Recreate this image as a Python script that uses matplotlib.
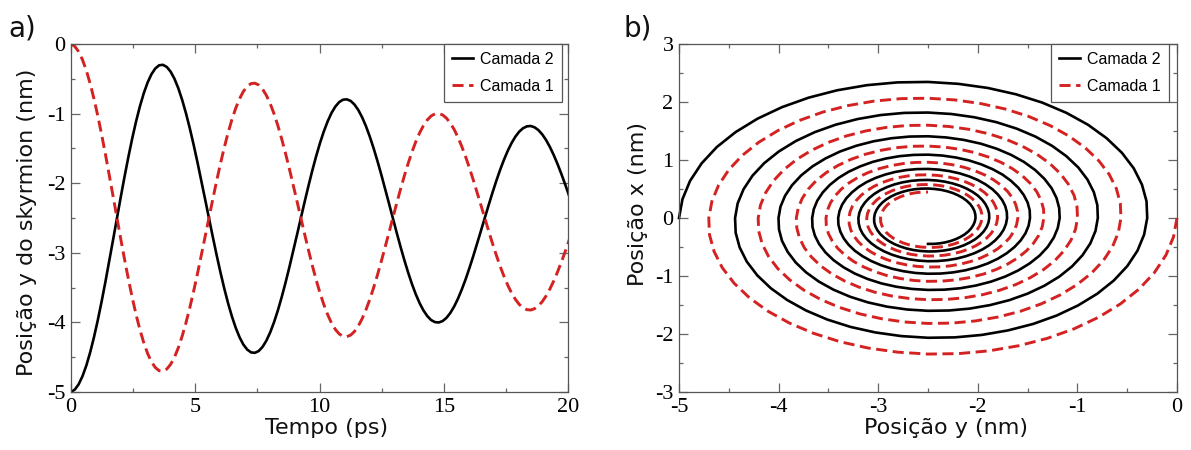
import numpy as np
import matplotlib
matplotlib.use("Agg")
import matplotlib.pyplot as plt
from matplotlib.ticker import MultipleLocator

# Sampling interval of the simulation output (ps)
t_step = 7.4 / 48

# Camada 2: skyrmion y position (nm)
y_c2 = [
    -5.000, -4.965, -4.889, -4.773, -4.620, -4.431, -4.212, -3.966, -3.698, -3.412, -3.114, -2.808,
    -2.500, -2.195, -1.899, -1.617, -1.352, -1.109, -0.893, -0.707, -0.553, -0.434, -0.352, -0.306,
    -0.299, -0.330, -0.397, -0.499, -0.634, -0.800, -0.993, -1.209, -1.445, -1.697, -1.960, -2.229,
    -2.500, -2.768, -3.029, -3.278, -3.511, -3.724, -3.914, -4.078, -4.214, -4.319, -4.391, -4.431,
    -4.437, -4.411, -4.352, -4.262, -4.143, -3.997, -3.827, -3.636, -3.428, -3.207, -2.975, -2.739,
    -2.500, -2.264, -2.035, -1.815, -1.610, -1.422, -1.255, -1.111, -0.991, -0.899, -0.835, -0.800,
    -0.795, -0.818, -0.870, -0.949, -1.054, -1.182, -1.332, -1.500, -1.683, -1.878, -2.081, -2.290,
    -2.500, -2.708, -2.910, -3.103, -3.283, -3.449, -3.596, -3.723, -3.828, -3.909, -3.966, -3.996,
    -4.001, -3.981, -3.935, -3.865, -3.773, -3.660, -3.528, -3.381, -3.219, -3.048, -2.868, -2.685,
    -2.500, -2.317, -2.139, -1.969, -1.810, -1.665, -1.535, -1.423, -1.331, -1.259, -1.210, -1.183,
    -1.178, -1.197, -1.237, -1.298, -1.379, -1.479, -1.595, -1.725, -1.867, -2.018, -2.176, -2.337,
    -2.500, -2.661, -2.818, -2.967, -3.107, -3.235, -3.349, -3.448, -3.529, -3.592, -3.636, -3.660,
    -3.663, -3.647, -3.612, -3.558, -3.486, -3.399, -3.297, -3.182, -3.058, -2.924, -2.786, -2.643,
    -2.500, -2.358, -2.220, -2.089, -1.966, -1.853, -1.752, -1.666, -1.594, -1.539, -1.500, -1.479,
    -1.476, -1.490, -1.521, -1.569, -1.632, -1.709, -1.799, -1.899, -2.009, -2.126, -2.249, -2.374,
    -2.500, -2.625, -2.746, -2.862, -2.970, -3.070, -3.158, -3.235, -3.298, -3.346, -3.380, -3.399,
    -3.402, -3.389, -3.362, -3.320, -3.264, -3.197, -3.118, -3.029, -2.932, -2.829, -2.721, -2.611,
    -2.500, -2.390, -2.283, -2.181, -2.086, -1.999, -1.921, -1.853, -1.798, -1.755, -1.725, -1.709,
    -1.706, -1.717, -1.741, -1.778, -1.827, -1.887, -1.956, -2.034, -2.120, -2.210, -2.305, -2.402,
    -2.500, -2.597, -2.691, -2.780, -2.865, -2.941, -3.010, -3.069, -3.118, -3.156, -3.182, -3.196,
    -3.199, -3.189, -3.168, -3.135, -3.092, -3.040, -2.979, -2.910, -2.835, -2.755, -2.671, -2.586,
    -2.500, -2.415, -2.332, -2.253, -2.179, -2.111, -2.051, -1.999, -1.956, -1.923, -1.900, -1.887,
    -1.885, -1.893, -1.912, -1.941, -1.979, -2.025, -2.079, -2.139, -2.205, -2.276, -2.349, -2.424,
    -2.500, -2.575, -2.648, -2.717, -2.782, -2.842, -2.895, -2.941, -2.979, -3.008, -3.029, -3.040,
    -3.041, -3.034, -3.017, -2.992, -2.959, -2.918, -2.871, -2.818, -2.759, -2.698, -2.633, -2.567,
    -2.500, -2.434, -2.370, -2.309, -2.251, -2.199, -2.152, -2.112, -2.078, -2.053, -2.035, -2.025,
    -2.023, -2.030, -2.045, -2.067, -2.096, -2.132, -2.174, -2.220, -2.272, -2.326, -2.383, -2.441,
    -2.500,
]

# Camada 2: skyrmion x position (nm)
x_c2 = [
    0.000, 0.325, 0.640, 0.942, 1.224, 1.482, 1.712, 1.911, 2.075, 2.202, 2.290, 2.338,
    2.346, 2.313, 2.242, 2.133, 1.989, 1.812, 1.607, 1.376, 1.124, 0.856, 0.576, 0.289,
    0.000, -0.286, -0.564, -0.829, -1.077, -1.305, -1.507, -1.682, -1.827, -1.938, -2.016, -2.058,
    -2.065, -2.036, -1.973, -1.878, -1.751, -1.595, -1.414, -1.211, -0.989, -0.753, -0.507, -0.254,
    0.000, 0.252, 0.496, 0.730, 0.948, 1.148, 1.327, 1.481, 1.608, 1.706, 1.775, 1.812,
    1.818, 1.793, 1.737, 1.653, 1.541, 1.404, 1.245, 1.066, 0.871, 0.663, 0.446, 0.224,
    0.000, -0.221, -0.437, -0.642, -0.835, -1.011, -1.168, -1.304, -1.416, -1.502, -1.562, -1.595,
    -1.600, -1.578, -1.529, -1.455, -1.357, -1.236, -1.096, -0.939, -0.767, -0.584, -0.393, -0.197,
    0.000, 0.195, 0.384, 0.565, 0.735, 0.890, 1.028, 1.148, 1.246, 1.322, 1.375, 1.404,
    1.409, 1.389, 1.346, 1.281, 1.194, 1.088, 0.965, 0.826, 0.675, 0.514, 0.346, 0.173,
    0.000, -0.172, -0.338, -0.498, -0.647, -0.783, -0.905, -1.010, -1.097, -1.164, -1.211, -1.236,
    -1.240, -1.223, -1.185, -1.128, -1.051, -0.958, -0.849, -0.727, -0.594, -0.452, -0.304, -0.153,
    0.000, 0.151, 0.298, 0.438, 0.570, 0.690, 0.797, 0.889, 0.966, 1.025, 1.066, 1.088,
    1.092, 1.077, 1.043, 0.993, 0.925, 0.843, 0.748, 0.640, 0.523, 0.398, 0.268, 0.134,
    0.000, -0.133, -0.262, -0.386, -0.501, -0.607, -0.702, -0.783, -0.850, -0.902, -0.938, -0.958,
    -0.961, -0.948, -0.918, -0.874, -0.815, -0.742, -0.658, -0.564, -0.460, -0.351, -0.236, -0.118,
    0.000, 0.117, 0.231, 0.340, 0.441, 0.534, 0.618, 0.689, 0.748, 0.794, 0.826, 0.843,
    0.846, 0.834, 0.808, 0.769, 0.717, 0.654, 0.579, 0.496, 0.405, 0.309, 0.208, 0.104,
    0.000, -0.103, -0.203, -0.299, -0.389, -0.471, -0.544, -0.607, -0.659, -0.699, -0.727, -0.742,
    -0.745, -0.734, -0.712, -0.677, -0.631, -0.575, -0.510, -0.437, -0.357, -0.272, -0.183, -0.092,
    0.000, 0.091, 0.179, 0.263, 0.342, 0.414, 0.479, 0.534, 0.580, 0.615, 0.640, 0.653,
    0.656, 0.647, 0.627, 0.596, 0.556, 0.506, 0.449, 0.385, 0.314, 0.239, 0.161, 0.081,
    0.000, -0.080, -0.158, -0.232, -0.301, -0.365, -0.421, -0.470, -0.511, -0.542, -0.563, -0.575,
    -0.577, -0.569, -0.552, -0.525, -0.489, -0.446, -0.395, -0.338, -0.277, -0.211, -0.142, -0.071,
    0.000, 0.070, 0.139, 0.204, 0.265, 0.321, 0.371, 0.414, 0.449, 0.477, 0.496, 0.506,
    0.508, 0.501, 0.486, 0.462, 0.431, 0.392, 0.348, 0.298, 0.243, 0.185, 0.125, 0.063,
    0.000, -0.062, -0.122, -0.180, -0.233, -0.283, -0.326, -0.364, -0.396, -0.420, -0.437, -0.446,
    -0.447,
]

# Camada 1: skyrmion y position (nm)
y_c1 = [
    0.000, -0.035, -0.111, -0.227, -0.380, -0.569, -0.788, -1.034, -1.302, -1.588, -1.886, -2.192,
    -2.500, -2.805, -3.101, -3.383, -3.648, -3.891, -4.107, -4.293, -4.447, -4.566, -4.648, -4.694,
    -4.701, -4.670, -4.603, -4.501, -4.366, -4.200, -4.007, -3.791, -3.555, -3.303, -3.040, -2.771,
    -2.500, -2.232, -1.971, -1.722, -1.489, -1.276, -1.086, -0.922, -0.786, -0.681, -0.609, -0.569,
    -0.563, -0.589, -0.648, -0.738, -0.857, -1.003, -1.173, -1.364, -1.572, -1.793, -2.025, -2.261,
    -2.500, -2.736, -2.965, -3.185, -3.390, -3.578, -3.745, -3.889, -4.009, -4.101, -4.165, -4.200,
    -4.205, -4.182, -4.130, -4.051, -3.946, -3.818, -3.668, -3.500, -3.317, -3.122, -2.919, -2.710,
    -2.500, -2.292, -2.090, -1.897, -1.717, -1.551, -1.404, -1.277, -1.172, -1.091, -1.034, -1.004,
    -0.999, -1.019, -1.065, -1.135, -1.227, -1.340, -1.472, -1.619, -1.781, -1.952, -2.132, -2.315,
    -2.500, -2.683, -2.861, -3.031, -3.190, -3.335, -3.465, -3.577, -3.669, -3.741, -3.790, -3.817,
    -3.822, -3.803, -3.763, -3.702, -3.621, -3.521, -3.405, -3.275, -3.133, -2.982, -2.824, -2.663,
    -2.500, -2.339, -2.182, -2.033, -1.893, -1.765, -1.651, -1.552, -1.471, -1.408, -1.364, -1.340,
    -1.337, -1.353, -1.388, -1.442, -1.514, -1.601, -1.703, -1.818, -1.942, -2.076, -2.214, -2.357,
    -2.500, -2.642, -2.780, -2.911, -3.034, -3.147, -3.248, -3.334, -3.406, -3.461, -3.500, -3.521,
    -3.524, -3.510, -3.479, -3.431, -3.368, -3.291, -3.201, -3.101, -2.991, -2.874, -2.751, -2.626,
    -2.500, -2.375, -2.254, -2.138, -2.030, -1.930, -1.842, -1.765, -1.702, -1.654, -1.620, -1.601,
    -1.598, -1.611, -1.638, -1.680, -1.736, -1.803, -1.882, -1.971, -2.068, -2.171, -2.279, -2.389,
    -2.500, -2.610, -2.717, -2.819, -2.914, -3.001, -3.079, -3.147, -3.202, -3.245, -3.275, -3.291,
    -3.294, -3.283, -3.259, -3.222, -3.173, -3.113, -3.044, -2.966, -2.880, -2.790, -2.695, -2.598,
    -2.500, -2.403, -2.309, -2.220, -2.135, -2.059, -1.990, -1.931, -1.882, -1.844, -1.818, -1.804,
    -1.801, -1.811, -1.832, -1.865, -1.908, -1.960, -2.021, -2.090, -2.165, -2.245, -2.329, -2.414,
    -2.500, -2.585, -2.668, -2.747, -2.821, -2.889, -2.949, -3.001, -3.044, -3.077, -3.100, -3.113,
    -3.115, -3.107, -3.088, -3.059, -3.021, -2.975, -2.921, -2.861, -2.795, -2.724, -2.651, -2.576,
    -2.500, -2.425, -2.352, -2.283, -2.218, -2.158, -2.105, -2.059, -2.021, -1.992, -1.971, -1.960,
    -1.959, -1.966, -1.983, -2.008, -2.041, -2.082, -2.129, -2.182, -2.241, -2.302, -2.367, -2.433,
    -2.500, -2.566, -2.630, -2.691, -2.749, -2.801, -2.848, -2.888, -2.922, -2.947, -2.965, -2.975,
    -2.977, -2.970, -2.955, -2.933, -2.904, -2.868, -2.826, -2.780, -2.728, -2.674, -2.617, -2.559,
    -2.500,
]

# Camada 1: skyrmion x position (nm)
x_c1 = [
    0.000, -0.325, -0.640, -0.942, -1.224, -1.482, -1.712, -1.911, -2.075, -2.202, -2.290, -2.338,
    -2.346, -2.313, -2.242, -2.133, -1.989, -1.812, -1.607, -1.376, -1.124, -0.856, -0.576, -0.289,
    0.000, 0.286, 0.564, 0.829, 1.077, 1.305, 1.507, 1.682, 1.827, 1.938, 2.016, 2.058,
    2.065, 2.036, 1.973, 1.878, 1.751, 1.595, 1.414, 1.211, 0.989, 0.753, 0.507, 0.254,
    0.000, -0.252, -0.496, -0.730, -0.948, -1.148, -1.327, -1.481, -1.608, -1.706, -1.775, -1.812,
    -1.818, -1.793, -1.737, -1.653, -1.541, -1.404, -1.245, -1.066, -0.871, -0.663, -0.446, -0.224,
    0.000, 0.221, 0.437, 0.642, 0.835, 1.011, 1.168, 1.304, 1.416, 1.502, 1.562, 1.595,
    1.600, 1.578, 1.529, 1.455, 1.357, 1.236, 1.096, 0.939, 0.767, 0.584, 0.393, 0.197,
    0.000, -0.195, -0.384, -0.565, -0.735, -0.890, -1.028, -1.148, -1.246, -1.322, -1.375, -1.404,
    -1.409, -1.389, -1.346, -1.281, -1.194, -1.088, -0.965, -0.826, -0.675, -0.514, -0.346, -0.173,
    0.000, 0.172, 0.338, 0.498, 0.647, 0.783, 0.905, 1.010, 1.097, 1.164, 1.211, 1.236,
    1.240, 1.223, 1.185, 1.128, 1.051, 0.958, 0.849, 0.727, 0.594, 0.452, 0.304, 0.153,
    0.000, -0.151, -0.298, -0.438, -0.570, -0.690, -0.797, -0.889, -0.966, -1.025, -1.066, -1.088,
    -1.092, -1.077, -1.043, -0.993, -0.925, -0.843, -0.748, -0.640, -0.523, -0.398, -0.268, -0.134,
    0.000, 0.133, 0.262, 0.386, 0.501, 0.607, 0.702, 0.783, 0.850, 0.902, 0.938, 0.958,
    0.961, 0.948, 0.918, 0.874, 0.815, 0.742, 0.658, 0.564, 0.460, 0.351, 0.236, 0.118,
    0.000, -0.117, -0.231, -0.340, -0.441, -0.534, -0.618, -0.689, -0.748, -0.794, -0.826, -0.843,
    -0.846, -0.834, -0.808, -0.769, -0.717, -0.654, -0.579, -0.496, -0.405, -0.309, -0.208, -0.104,
    0.000, 0.103, 0.203, 0.299, 0.389, 0.471, 0.544, 0.607, 0.659, 0.699, 0.727, 0.742,
    0.745, 0.734, 0.712, 0.677, 0.631, 0.575, 0.510, 0.437, 0.357, 0.272, 0.183, 0.092,
    0.000, -0.091, -0.179, -0.263, -0.342, -0.414, -0.479, -0.534, -0.580, -0.615, -0.640, -0.653,
    -0.656, -0.647, -0.627, -0.596, -0.556, -0.506, -0.449, -0.385, -0.314, -0.239, -0.161, -0.081,
    0.000, 0.080, 0.158, 0.232, 0.301, 0.365, 0.421, 0.470, 0.511, 0.542, 0.563, 0.575,
    0.577, 0.569, 0.552, 0.525, 0.489, 0.446, 0.395, 0.338, 0.277, 0.211, 0.142, 0.071,
    0.000, -0.070, -0.139, -0.204, -0.265, -0.321, -0.371, -0.414, -0.449, -0.477, -0.496, -0.506,
    -0.508, -0.501, -0.486, -0.462, -0.431, -0.392, -0.348, -0.298, -0.243, -0.185, -0.125, -0.063,
    0.000, 0.062, 0.122, 0.180, 0.233, 0.283, 0.326, 0.364, 0.396, 0.420, 0.437, 0.446,
    0.447,
]

t_ps = np.arange(len(y_c2)) * t_step

labels = ["Camada 2", "Camada 1"]
panel_tags = ["a)", "b)"]

BLACK = "#000000"
RED = "#d42222"
FRAME = "#555555"

plt.rcParams["axes.unicode_minus"] = False

fig = plt.figure(figsize=(11.91, 4.5), dpi=100)
ax_a = fig.add_axes([71 / 1191, 58 / 450, 497 / 1191, 348 / 450])
ax_b = fig.add_axes([679 / 1191, 58 / 450, 498 / 1191, 348 / 450])

tick_font = dict(family="Liberation Serif", size=16)
dash = (3.8, 1.9)


def style_axes(ax, xmaj, xmin, ymaj, ymin):
    ax.xaxis.set_major_locator(MultipleLocator(xmaj))
    ax.xaxis.set_minor_locator(MultipleLocator(xmin))
    ax.yaxis.set_major_locator(MultipleLocator(ymaj))
    ax.yaxis.set_minor_locator(MultipleLocator(ymin))
    ax.tick_params(which="both", direction="in", top=True, right=True,
                   color="#666666", width=0.9)
    ax.tick_params(which="major", length=6.5, pad=4)
    ax.tick_params(which="minor", length=3.2)
    for lab in ax.get_xticklabels() + ax.get_yticklabels():
        lab.set_fontfamily(tick_font["family"])
        lab.set_fontsize(tick_font["size"])
    for sp in ax.spines.values():
        sp.set_color(FRAME)
        sp.set_linewidth(0.9)


def add_legend(ax, right):
    leg = ax.legend(loc="upper right", bbox_to_anchor=(right, 1.0),
                    borderaxespad=0, frameon=True, fancybox=False,
                    framealpha=1, edgecolor=FRAME,
                    prop=dict(family="Liberation Sans", size=11.5),
                    handlelength=1.35, handletextpad=0.45,
                    labelspacing=0.75, borderpad=0.5)
    leg.get_frame().set_linewidth(0.9)


# a) y position versus time
mask = t_ps <= 20.3
ax_a.plot(t_ps[mask], np.asarray(y_c2)[mask], color=BLACK, lw=1.9,
          label=labels[0])
ax_a.plot(t_ps[mask], np.asarray(y_c1)[mask], color=RED, lw=2.1,
          dashes=dash, label=labels[1])
ax_a.set_xlim(0, 20)
ax_a.set_ylim(-5, 0)
style_axes(ax_a, 5, 2.5, 1, 0.5)
add_legend(ax_a, 0.988)

# b) trajectory in the plane
ax_b.plot(y_c2, x_c2, color=BLACK, lw=1.9, label=labels[0], clip_on=False)
ax_b.plot(y_c1, x_c1, color=RED, lw=2.1, dashes=dash, label=labels[1],
          clip_on=False)
ax_b.set_xlim(-5, 0)
ax_b.set_ylim(-3, 3)
style_axes(ax_b, 1, 0.5, 1, 0.5)
add_legend(ax_b, 0.984)

label_font = dict(family="DejaVu Sans", size=16, color="#111111")
fig.text(27 / 1191, 1 - 222 / 450, "Posição y do skyrmion (nm)",
         rotation=90, ha="center", va="center", **label_font)
fig.text(327 / 1191, 1 - 428 / 450, "Tempo (ps)", ha="center", va="center",
         **label_font)
fig.text(638 / 1191, 1 - 204 / 450, "Posição x (nm)", rotation=90,
         ha="center", va="center", **label_font)
fig.text(946 / 1191, 1 - 428 / 450, "Posição y (nm)", ha="center",
         va="center", **label_font)

fig.text(22 / 1191, 1 - 28 / 450, panel_tags[0], ha="center", va="center",
         family="DejaVu Sans", size=20, color="#111111")
fig.text(638 / 1191, 1 - 28 / 450, panel_tags[1], ha="center", va="center",
         family="DejaVu Sans", size=20, color="#111111")

fig.savefig("out.png", dpi=100)
